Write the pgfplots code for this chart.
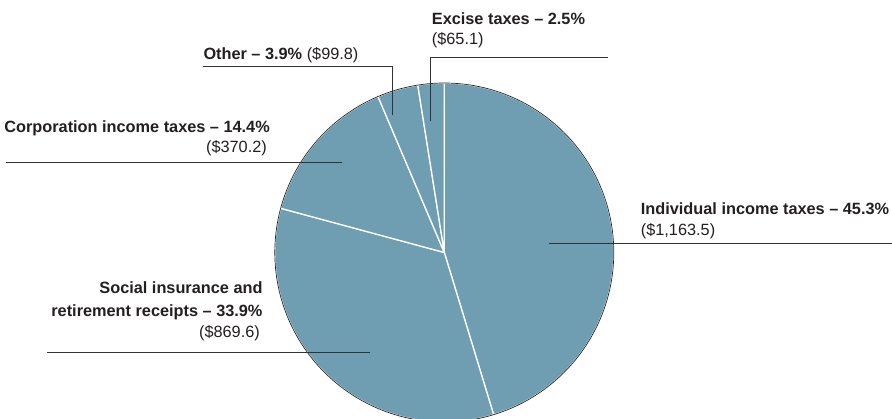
\documentclass[border=0pt]{standalone}
\usepackage{fontspec}
\setmainfont{Liberation Sans}
\usepackage{pgfplots}
\pgfplotsset{compat=1.18}
\definecolor{pieblue}{RGB}{111,157,178}
\definecolor{lead}{RGB}{50,50,50}
\definecolor{txt}{RGB}{35,31,32}
\begin{document}
\begin{tikzpicture}
\useasboundingbox (0,0) rectangle (892pt,419pt);
\begin{axis}[at={(0,0)}, anchor=south west, scale only axis,
  width=892pt, height=419pt, xmin=0, xmax=892, ymin=0, ymax=419,
  y dir=reverse, hide axis, clip=true]
\def\cx{444.3}\def\cy{252.5}\def\rr{169.5}
\pgfmathsetmacro\acc{0}
\pgfplotsforeachungrouped \v in {45.3,33.9,14.4,3.9,2.5}{%
  \pgfmathsetmacro\aS{90-3.6*\acc}%
  \pgfmathsetmacro\aE{90-3.6*(\acc+\v)}%
  \edef\temp{\noexpand\addplot[fill=pieblue, draw=white, line width=1.3pt, line join=round, domain=\aE:\aS, samples=90, variable=\noexpand\t] ({\cx+\rr*cos(\noexpand\t)},{\cy-\rr*sin(\noexpand\t)}) -- (axis cs:\cx,\cy) -- cycle;}%
  \temp
  \pgfmathsetmacro\acc{\acc+\v}%
}
\addplot[draw=black!85, line width=0.7pt, domain=0:360, samples=240, variable=\t] ({\cx+\rr*cos(\t)},{\cy-\rr*sin(\t)});
% leader lines
\addplot[lead, line width=0.9pt] coordinates {(430.7,120.7) (430.7,57) (608,57)};
\addplot[lead, line width=0.9pt] coordinates {(203,66.3) (392.3,66.3) (392.3,115)};
\addplot[lead, line width=0.9pt] coordinates {(6.3,162.3) (342.3,162.3)};
\addplot[lead, line width=0.9pt] coordinates {(549.3,243.3) (892,243.3)};
\addplot[lead, line width=0.9pt] coordinates {(47.3,352.7) (370,352.7)};
% labels
\begin{scope}[every node/.style={text=txt, inner sep=0pt, font=\fontsize{16.3}{21}\selectfont}]
\node[anchor=base west] at (axis cs:431.7,25) {\bfseries Excise taxes -- 2.5\%};
\node[anchor=base west] at (axis cs:431.7,45) {(\$65.1)};
\node[anchor=base west] at (axis cs:203.3,59.5) {\textbf{Other -- 3.9\%} (\$99.8)};
\node[anchor=base east] at (axis cs:270,132.7) {\bfseries Corporation income taxes -- 14.4\%};
\node[anchor=base east] at (axis cs:267,152.5) {(\$370.2)};
\node[anchor=base west] at (axis cs:640.7,215) {\bfseries Individual income taxes -- 45.3\%};
\node[anchor=base west] at (axis cs:640.7,236) {(\$1,163.5)};
\node[anchor=base east] at (axis cs:262.7,294) {\bfseries Social insurance and};
\node[anchor=base east] at (axis cs:262.7,316.5) {\bfseries retirement receipts -- 33.9\%};
\node[anchor=base east] at (axis cs:260,338) {(\$869.6)};
\end{scope}
\end{axis}
\end{tikzpicture}
\end{document}
